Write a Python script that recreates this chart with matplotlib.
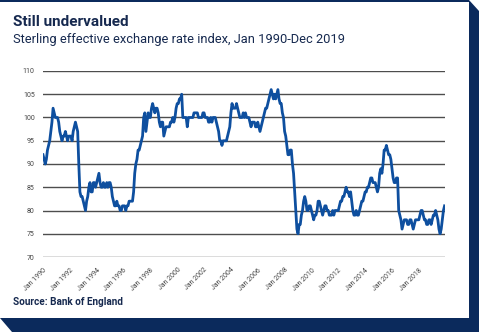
import matplotlib
matplotlib.use("Agg")
import matplotlib.pyplot as plt
from matplotlib.patches import Polygon, Rectangle
import numpy as np

# ---- Data: monthly sterling ERI, Jan 1990 - Dec 2019 ----
start_year = 1990
eri_1990s = [
    92, 91, 90, 91, 93, 94, 95, 97, 99, 102, 101, 100,   # 1990
    100, 100, 99, 97, 96, 95, 96, 96, 97, 96, 95, 96,    # 1991
    96, 96, 95, 97, 98, 99, 98, 97, 90, 84, 83, 83,      # 1992
    82, 81, 80, 82, 83, 85, 86, 84, 84, 86, 86, 85,      # 1993
    86, 87, 88, 86, 85, 85, 86, 85, 85, 86, 85, 86,      # 1994
    86, 85, 83, 82, 81, 81, 82, 81, 81, 80, 80, 81,      # 1995
    81, 81, 80, 81, 81, 82, 82, 82, 82, 84, 88, 90,      # 1996
    91, 93, 93, 94, 95, 96, 100, 101, 97, 99, 101, 100,  # 1997
    100, 102, 103, 102, 101, 102, 102, 101, 99, 98, 99, 99,  # 1998
    96, 97, 98, 98, 98, 98, 99, 99, 100, 99, 100, 102,   # 1999
]
eri_2000s = [
    103, 103, 104, 104, 105, 100, 100, 100, 100, 98, 100, 100,  # 2000
    100, 100, 100, 101, 101, 101, 101, 100, 100, 100, 100, 101,  # 2001
    101, 100, 100, 100, 99, 99, 100, 99, 100, 100, 100, 99,     # 2002
    98, 97, 95, 95, 94, 95, 95, 95, 95, 96, 97, 98,             # 2003
    101, 103, 102, 102, 102, 103, 102, 101, 100, 100, 100, 101,  # 2004
    100, 101, 100, 100, 100, 99, 98, 99, 99, 99, 98, 98,        # 2005
    99, 98, 97, 98, 99, 100, 101, 102, 102, 103, 104, 105,      # 2006
    106, 105, 104, 105, 104, 105, 106, 104, 103, 103, 101, 100,  # 2007
    97, 96, 94, 92, 92, 93, 93, 90, 88, 84, 80, 76,             # 2008
    75, 77, 77, 79, 80, 82, 83, 82, 80, 80, 81, 81,             # 2009
]
eri_2010s = [
    80, 79, 78, 79, 79, 80, 82, 82, 81, 80, 79, 80,   # 2010
    81, 81, 80, 80, 79, 79, 79, 80, 79, 80, 80, 80,   # 2011
    80, 81, 82, 82, 83, 83, 84, 85, 84, 84, 83, 84,   # 2012
    82, 80, 79, 79, 80, 79, 79, 80, 81, 82, 82, 83,   # 2013
    84, 84, 85, 85, 86, 87, 87, 86, 86, 86, 85, 84,   # 2014
    85, 88, 89, 88, 90, 93, 93, 94, 93, 92, 92, 91,   # 2015
    89, 87, 86, 86, 87, 87, 80, 79, 78, 76, 77, 78,   # 2016
    78, 78, 77, 77, 78, 78, 77, 76, 77, 78, 78, 78,   # 2017
    78, 79, 80, 80, 79, 78, 78, 77, 77, 78, 78, 77,   # 2018
    78, 79, 79, 80, 79, 78, 76, 75, 76, 78, 80, 81,   # 2019
]
tick_years = list(range(1990, 2019, 2))
tick_labels = ["Jan %d" % y for y in tick_years]
y_ticks = [70, 75, 80, 85, 90, 95, 100, 105, 110]

eri = eri_1990s + eri_2000s + eri_2010s
months = start_year + np.arange(len(eri)) / 12.0

NAVY = "#0b2a5c"
TEXT_NAVY = "#16294f"
LINE_BLUE = "#0e4f9f"

W, H = 480, 333
fig = plt.figure(figsize=(W / 100, H / 100), dpi=100)
fig.patch.set_facecolor("white")

def px(x, y):
    return (x / W, 1 - y / H)

# ---- card frame with navy shadow ----
shadow = Polygon([px(469, 0), px(479, 11), px(479, 332), px(12, 332),
                  px(0, 318), px(469, 318)],
                 closed=True, transform=fig.transFigure,
                 facecolor=NAVY, edgecolor="none")
fig.patches.append(shadow)
fig.patches.append(Rectangle(px(0, 1.5), 469 / W, 1.5 / H,
                             transform=fig.transFigure,
                             facecolor=NAVY, edgecolor="none"))

font = ["Roboto", "DejaVu Sans"]

# ---- titles ----
fig.text(13 / W, 1 - 22 / H, "Still undervalued", fontsize=11,
         fontweight="bold", color=TEXT_NAVY, family=font, va="center")
fig.text(13 / W, 1 - 40 / H, "Sterling effective exchange rate index, Jan 1990-Dec 2019",
         fontsize=9.3, color=TEXT_NAVY, family=font, va="center")
fig.text(13 / W, 1 - 302 / H, "Source: Bank of England", fontsize=7.2,
         fontweight="bold", color=TEXT_NAVY, family=font, va="center")

# ---- chart ----
ax = fig.add_axes([43 / W, 1 - 257 / H, (445 - 43) / W, (257 - 71) / H])
ax.set_facecolor("none")
ax.plot(months, eri, color=LINE_BLUE, linewidth=2.0, solid_joinstyle="round", zorder=3)

ax.set_ylim(70, 110)
ax.set_xlim(1990, 2019.95)
ax.set_yticks(y_ticks)
ax.set_yticklabels([str(v) for v in y_ticks], fontsize=5, color="#444444", family=font)
ax.set_xticks(tick_years)
ax.set_xticklabels(tick_labels, rotation=45, ha="right", rotation_mode="anchor",
                   fontsize=5, color="#444444", family=font)
ax.tick_params(length=0, axis="y", pad=6)
ax.tick_params(length=0, axis="x", pad=7)
ax.grid(axis="y", color="#4d4d4d", linewidth=1.0, zorder=1)
for s in ax.spines.values():
    s.set_visible(False)

fig.savefig("out.png", dpi=100, facecolor="white")
